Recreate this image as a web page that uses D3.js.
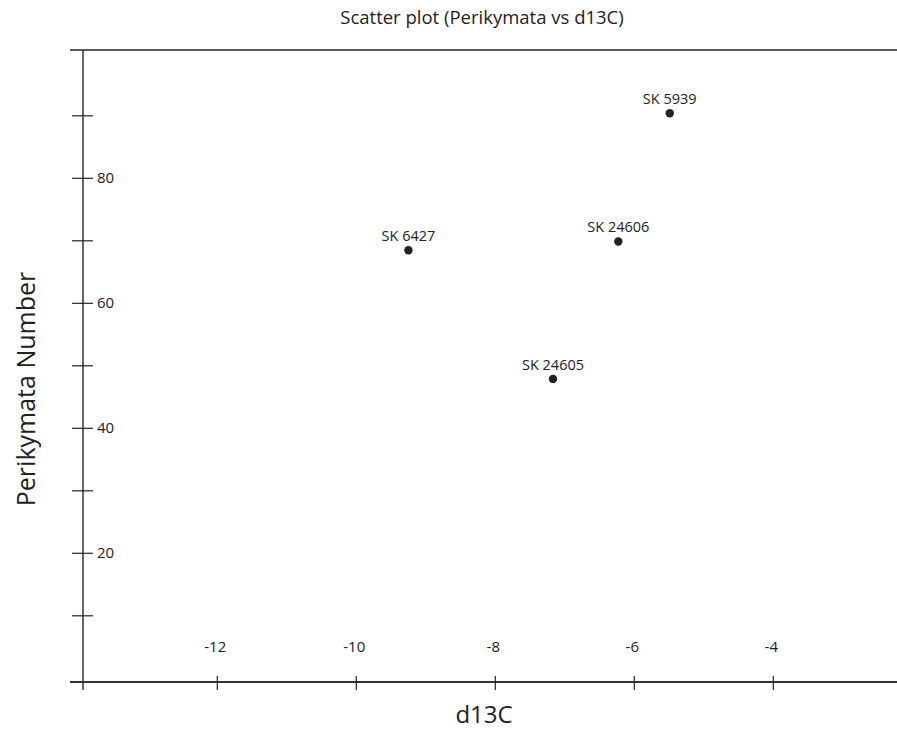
<!DOCTYPE html>
<html>
<head>
<meta charset="utf-8">
<script src="https://cdn.jsdelivr.net/npm/d3@7"></script>
<style>
  html, body { margin: 0; padding: 0; background: #fff; }
  svg { display: block; font-family: "Open Sans", sans-serif; }
</style>
</head>
<body>
<svg id="chart" width="897" height="733"></svg>
<script>
// ---- data ----
const specimens = ["SK 5939", "SK 6427", "SK 24606", "SK 24605"];
const d13C = [-5.49, -9.25, -6.23, -7.17];
const perikymata = [90.4, 68.5, 69.9, 47.9];
const xTickValues = [-12, -10, -8, -6, -4];
const yMajorTicks = [20, 40, 60, 80];
const yMinorTicks = [10, 30, 50, 70, 90];
const title = "Scatter plot (Perikymata vs d13C)";
const xTitle = "d13C";
const yTitle = "Perikymata Number";

// ---- layout ----
const svg = d3.select("#chart");
const x = d3.scaleLinear().domain([-12, -4]).range([217.3, 773.3]);
const y = d3.scaleLinear().domain([0, 80]).range([678.3, 178.3]);
const axisColor = "#333";
const yAxisX = 83, xAxisY = 682, topY = 50;

// title
svg.append("text").attr("x", 482).attr("y", 24).attr("text-anchor", "middle")
  .attr("font-size", 18.5).attr("fill", "#222").text(title);

// frame lines
svg.append("line").attr("x1", 70).attr("x2", 897).attr("y1", topY).attr("y2", topY)
  .attr("stroke", "#222").attr("stroke-width", 1.5);
svg.append("line").attr("x1", yAxisX).attr("x2", yAxisX).attr("y1", topY).attr("y2", 690)
  .attr("stroke", axisColor).attr("stroke-width", 1.5);
svg.append("line").attr("x1", 70).attr("x2", 897).attr("y1", xAxisY).attr("y2", xAxisY)
  .attr("stroke", axisColor).attr("stroke-width", 1.8);

// x ticks
const xt = svg.append("g");
xt.selectAll("line").data(xTickValues).join("line")
  .attr("x1", d => x(d)).attr("x2", d => x(d))
  .attr("y1", 676).attr("y2", 690)
  .attr("stroke", "#222").attr("stroke-width", 1.2);
xt.selectAll("text").data(xTickValues).join("text")
  .attr("x", d => x(d) - 2).attr("y", 652)
  .attr("text-anchor", "middle").attr("font-size", 15).attr("fill", "#222")
  .text(d => d);

// y ticks
const yt = svg.append("g");
yt.selectAll("line").data(yMajorTicks.concat(yMinorTicks)).join("line")
  .attr("x1", yAxisX - 11).attr("x2", yAxisX + 10)
  .attr("y1", d => y(d)).attr("y2", d => y(d))
  .attr("stroke", "#222").attr("stroke-width", 1.2);
yt.selectAll("text").data(yMajorTicks).join("text")
  .attr("x", 97).attr("y", d => y(d) + 5)
  .attr("font-size", 15).attr("fill", "#222")
  .text(d => d);

// axis titles
svg.append("text").attr("x", 484).attr("y", 723).attr("text-anchor", "middle")
  .attr("font-size", 24).attr("fill", "#222").text(xTitle);
svg.append("text").attr("transform", "translate(35,389) rotate(-90)")
  .attr("text-anchor", "middle").attr("font-size", 25).attr("fill", "#222").text(yTitle);

// points
const pts = specimens.map((s, i) => ({ name: s, x: d13C[i], y: perikymata[i] }));
const g = svg.append("g");
g.selectAll("circle").data(pts).join("circle")
  .attr("cx", d => x(d.x)).attr("cy", d => y(d.y)).attr("r", 4.2)
  .attr("fill", "#222");
g.selectAll("text").data(pts).join("text")
  .attr("x", d => x(d.x)).attr("y", d => y(d.y) - 9)
  .attr("text-anchor", "middle").attr("font-size", 14.5).attr("fill", "#222")
  .text(d => d.name);
</script>
</body>
</html>
